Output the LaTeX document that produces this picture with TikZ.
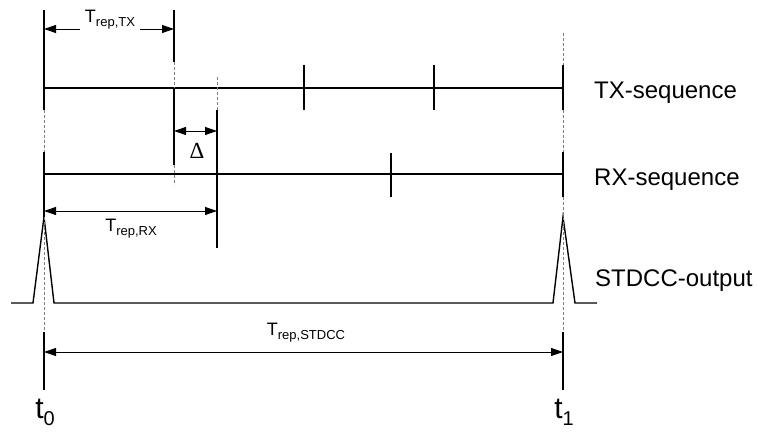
\documentclass[tikz,border=0pt]{standalone}
\usepackage{fontspec}
\setmainfont{Liberation Sans}
\newfontfamily\serifdelta{Liberation Serif}
\usetikzlibrary{arrows.meta}
\newcommand{\lbl}[2]{T\raisebox{-4pt}{\fontsize{13}{14}\selectfont #1}}
\begin{document}
\begin{tikzpicture}[x=1pt,y=-1pt,
  sig/.style={line width=1.4pt,black},
  vsolid/.style={line width=1.4pt,black},
  vdash/.style={line width=0.8pt,gray,dash pattern=on 3pt off 2pt},
  dim/.style={line width=0.9pt,black,{Triangle[length=12pt,width=8pt]}-{Triangle[length=12pt,width=8pt]}},
  dimlbl/.style={font=\fontsize{18}{20}\selectfont,inner sep=1pt},
  seqlbl/.style={font=\fontsize{24}{26}\selectfont,anchor=base west,inner sep=0pt},
  tlbl/.style={font=\fontsize{30}{32}\selectfont,inner sep=0pt}]
\useasboundingbox (0,0) rectangle (757,438);
% coordinates
\coordinate (t0top) at (44,10);
\coordinate (t1top) at (563,33);
% TX sequence
\draw[sig] (44,88) coordinate (txs) -- (563,88) coordinate (txe);
\draw[sig] (304,65) -- (304,110);
\draw[sig] (434,65) -- (434,110);
% RX sequence
\draw[sig] (44,174) coordinate (rxs) -- (563,174) coordinate (rxe);
\draw[sig] (391,153) -- (391,197);
% STDCC output
\draw[sig] (11,303) -- (33,303) -- (44,217) coordinate (p0) -- (54,303) -- (553,303) -- (563,217) coordinate (p1) -- (575,303) -- (597,303);
% vertical at t0
\draw[vsolid] (t0top) -- (44,110);
\draw[vdash] (44,110) -- (44,152);
\draw[vsolid] (44,152) -- (p0);
\draw[vdash] (p0) -- (44,332);
\draw[vsolid] (44,332) -- (44,390) coordinate (t0bot);
% vertical at t1
\draw[vdash] (t1top) -- (563,65);
\draw[vsolid] (563,65) -- (563,110);
\draw[vdash] (563,110) -- (563,152);
\draw[vsolid] (563,152) -- (563,197);
\draw[vdash] (563,197) -- (p1) -- (563,332);
\draw[vsolid] (563,332) -- (563,390) coordinate (t1bot);
% vertical at second TX pulse
\draw[vsolid] (174,10) -- (174,62);
\draw[vdash] (174,62) -- (174,88);
\draw[vsolid] (174,88) -- (174,165);
\draw[vdash] (174,165) -- (174,185);
% vertical at second RX pulse
\draw[vdash] (217,77) -- (217,110);
\draw[vsolid] (217,110) -- (217,248);
% dimension arrows
\coordinate (a1) at (44,29); \coordinate (b1) at (174,29);
\draw[dim] (a1) -- (b1);
\node[dimlbl,fill=white,inner xsep=5pt] (ltx) at (110,20) {\lbl{rep,TX}{}};
\coordinate (a2) at (174,131); \coordinate (b2) at (217,131);
\draw[dim] (a2) -- (b2);
\node[font=\fontsize{23}{24}\selectfont\serifdelta,inner sep=0pt] (ldelta) at (197,151) {Δ};
\coordinate (a3) at (44,211); \coordinate (b3) at (217,211);
\draw[dim] (a3) -- (b3);
\node[dimlbl] (lrx) at (131,229) {\lbl{rep,RX}{}};
\coordinate (a4) at (44,352); \coordinate (b4) at (563,352);
\draw[dim] (a4) -- (b4);
\node[dimlbl] (lst) at (306,333) {\lbl{rep,STDCC}{}};
% right labels
\node[seqlbl] (ltxseq) at (594,99) {TX-sequence};
\node[seqlbl] (lrxseq) at (594,186) {RX-sequence};
\node[seqlbl] (lstdcc) at (595,287) {STDCC-output};
% time labels
\node[tlbl] (lt0) at (45,412) {t\raisebox{-7pt}{\fontsize{20}{20}\selectfont 0}};
\node[tlbl] (lt1) at (564,412) {t\raisebox{-7pt}{\fontsize{20}{20}\selectfont 1}};
\end{tikzpicture}
\end{document}
